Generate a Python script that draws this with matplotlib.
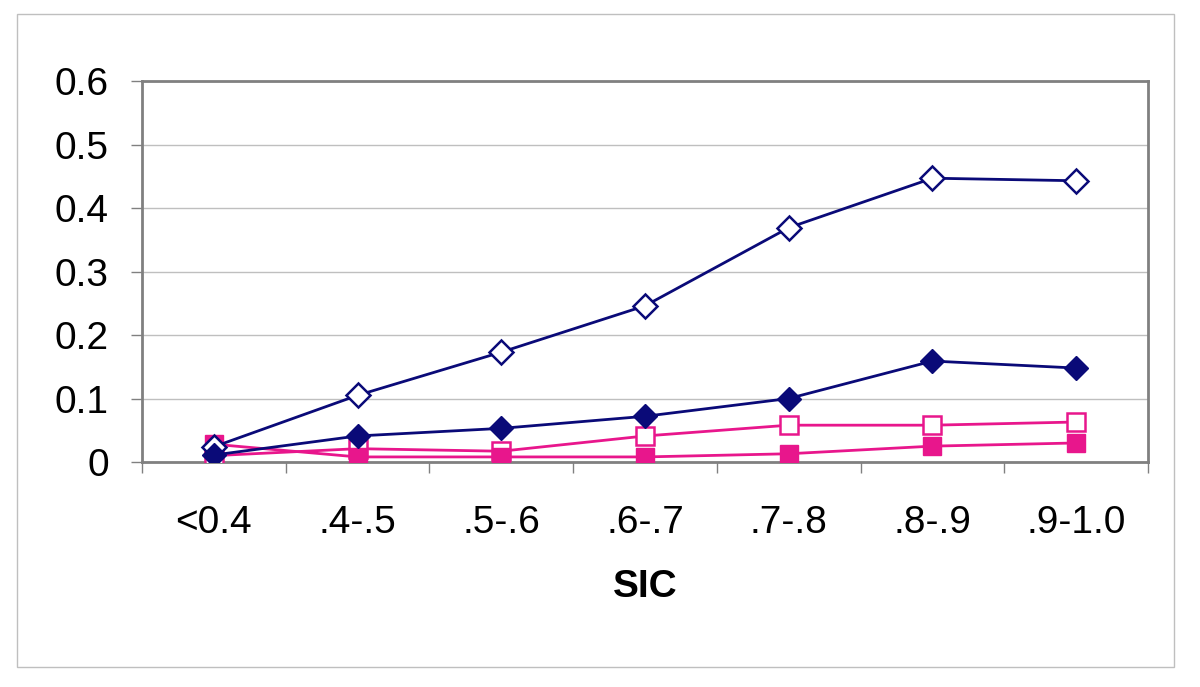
"""Sea ice concentration class frequencies, recreated from an Excel-style line chart."""

import matplotlib

matplotlib.use("Agg")
import matplotlib.pyplot as plt
import numpy as np
from matplotlib.patches import Rectangle


CATEGORIES = ["<0.4", ".4-.5", ".5-.6", ".6-.7", ".7-.8", ".8-.9", ".9-1.0"]
Y_TICKS = [0, 0.1, 0.2, 0.3, 0.4, 0.5, 0.6]

navy_open = [0.024, 0.105, 0.173, 0.246, 0.369, 0.447, 0.443]
navy_filled = [0.011, 0.041, 0.053, 0.072, 0.100, 0.159, 0.148]
pink_open = [0.010, 0.021, 0.017, 0.041, 0.058, 0.058, 0.063]
pink_filled = [0.028, 0.008, 0.008, 0.008, 0.013, 0.025, 0.030]

NAVY = "#0A0A78"
PINK = "#E8168C"

plt.rcParams["font.family"] = ["Liberation Sans", "DejaVu Sans"]

fig = plt.figure(figsize=(12, 6.87), dpi=100)
ax = fig.add_axes([0.1183, 0.3275, 0.8384, 0.5545])

fig.patches.append(Rectangle((17 / 1200, 1 - 667 / 687), (1174 - 17) / 1200, (667 - 14) / 687,
                             transform=fig.transFigure, fill=False, edgecolor="#BFBFBF", linewidth=1.0))

x = np.arange(len(CATEGORIES))
ax.plot(x, navy_open, color=NAVY, lw=2, marker="D", ms=12, mfc="white", mec=NAVY, mew=1.8, zorder=4)
ax.plot(x, navy_filled, color=NAVY, lw=2, marker="D", ms=12, mfc=NAVY, mec=NAVY, zorder=4)
ax.plot(x, pink_open, color=PINK, lw=2, marker="s", ms=13, mfc="white", mec=PINK, mew=1.8, zorder=3)
ax.plot(x, pink_filled, color=PINK, lw=2, marker="s", ms=13, mfc=PINK, mec=PINK, zorder=3)

ax.set_xlim(-0.5, len(CATEGORIES) - 0.5)
ax.set_ylim(0, 0.6)
ax.set_yticks(Y_TICKS)
ax.set_yticklabels([f"{v:g}" for v in Y_TICKS])
ax.set_xticks(x)
ax.set_xticklabels(CATEGORIES)
ax.set_xticks(np.arange(len(CATEGORIES) + 1) - 0.5, minor=True)
ax.tick_params(axis="x", which="major", length=0, pad=31, labelsize=28)
ax.tick_params(axis="x", which="minor", length=8, width=1, color="#808080")
ax.tick_params(axis="y", length=8, width=1, color="#808080", pad=16, labelsize=28)

ax.grid(axis="y", color="#BFBFBF", linewidth=1.0)
ax.set_axisbelow(True)
for side in ["top", "right", "left", "bottom"]:
    ax.spines[side].set_color("#808080")
    ax.spines[side].set_linewidth(2.0)

ax.set_xlabel("SIC", fontsize=28, fontweight="bold", labelpad=20)

fig.savefig("out.png", dpi=100)
